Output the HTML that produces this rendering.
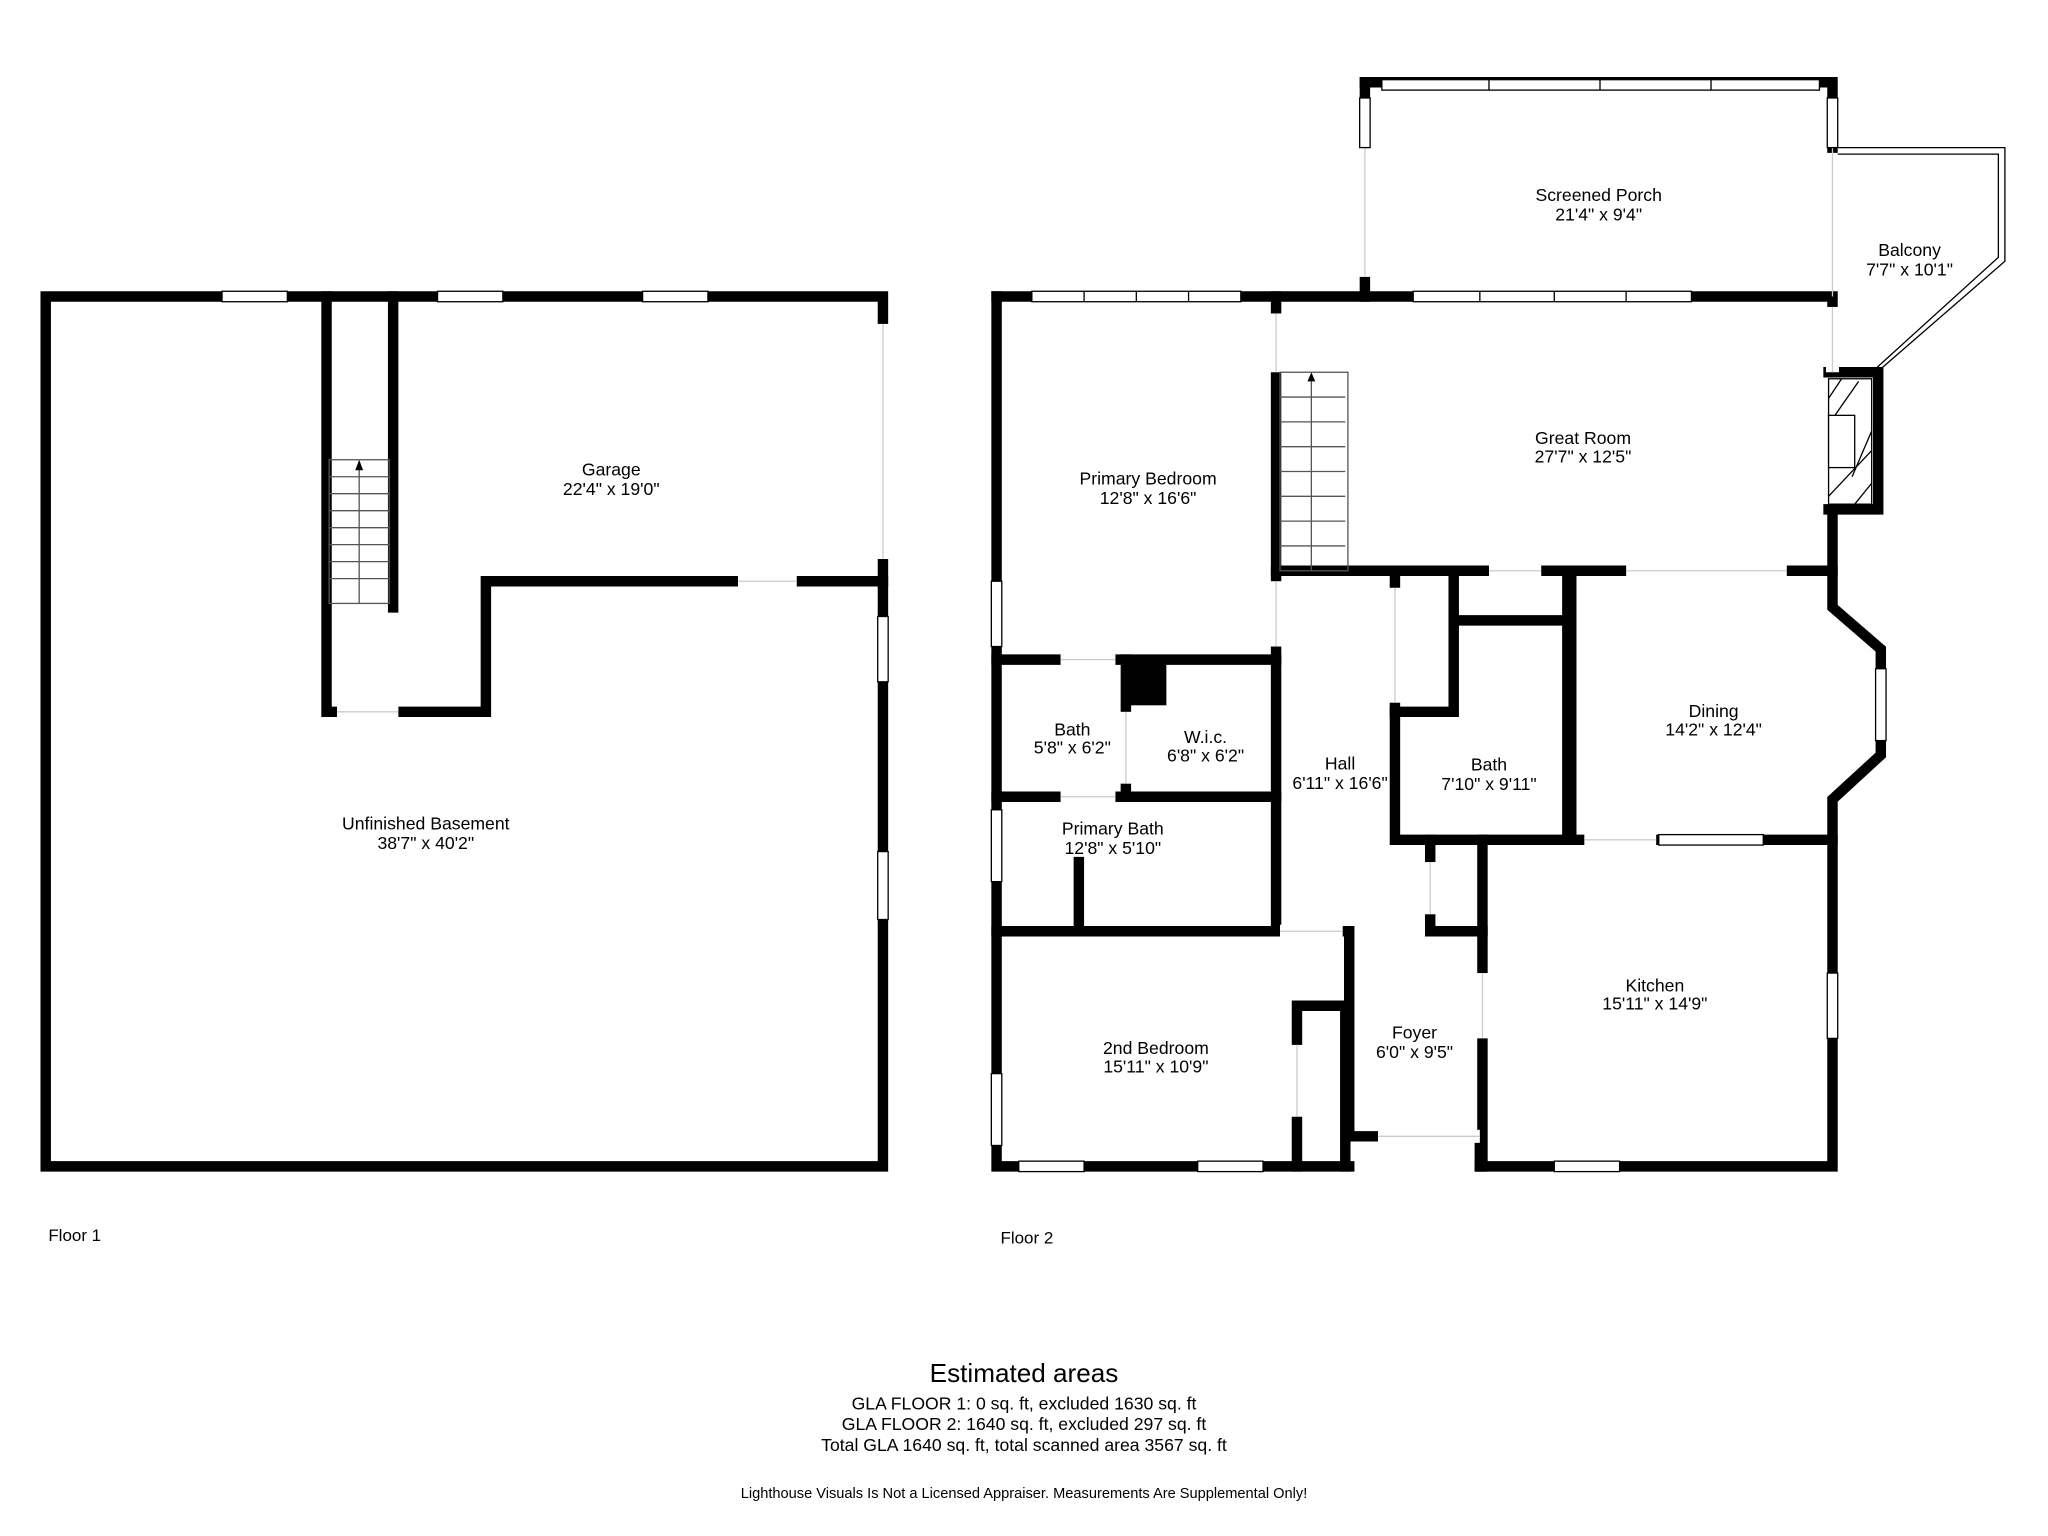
<!DOCTYPE html>
<html><head><meta charset="utf-8"><style>
html,body{margin:0;padding:0;background:#fff;}
svg{display:block;}
text{font-family:"Liberation Sans",sans-serif;fill:#000;}
</style></head><body>
<svg width="2048" height="1536" viewBox="0 0 1568 1176" xmlns="http://www.w3.org/2000/svg">
<rect width="1568" height="1176" fill="#fff"/>
<g stroke="#000" stroke-width="8" fill="none" stroke-linecap="square">
<path d="M35 227 H676 V893 H35 Z"/>
<path d="M250 227 V545 H372 V445 H676"/>
<path d="M301 227 V465"/>
</g>
<g fill="#fff" stroke="#000" stroke-width="1">
<rect x="170" y="223" width="50" height="8"/><rect x="335" y="223" width="50" height="8"/><rect x="492" y="223" width="50" height="8"/>
<rect x="672" y="472" width="8" height="50"/><rect x="672" y="652" width="8" height="52"/>
</g>
<g fill="#fff">
<rect x="671" y="248" width="10" height="180"/>
<rect x="565" y="440" width="45" height="10"/>
<rect x="258" y="540" width="47" height="10"/>
</g>
<line x1="676" y1="248" x2="676" y2="428" stroke="#ccc" stroke-width="1"/>
<line x1="565" y1="445" x2="610" y2="445" stroke="#ccc" stroke-width="1"/>
<line x1="258" y1="545" x2="305" y2="545" stroke="#ccc" stroke-width="1"/>
<g stroke="#555" stroke-width="1">
<rect x="252" y="352" width="46" height="110" fill="none"/>
<path d="M252 365H298M252 378H298M252 391H298M252 404H298M252 417H298M252 430H298M252 443H298M275 358V462"/>
</g>
<path d="M272 360 L275 352 L278 360Z" fill="#000"/>
<g font-size="13.5" text-anchor="middle">
<text x="468" y="364">Garage</text>
<text x="468" y="379">22'4" x 19'0"</text>
<text x="326" y="635">Unfinished Basement</text>
<text x="326" y="650">38'7" x 40'2"</text>
</g>
<text x="37" y="950" font-size="13">Floor 1</text>

<g stroke="#000" stroke-width="8" fill="none" stroke-linecap="square">
<path d="M763 227 V893 H1033"/>
<path d="M1133 893 H1403 V612 L1440 578 V497 L1403 465 V390"/>
<path d="M763 227 H1403 V285"/>
<path d="M977 227 V713"/>
<path d="M977 437 H1403"/>
<path d="M763 505 H977"/><path d="M862 505 V607"/><path d="M763 610 H977"/>
<path d="M763 713 H1030"/><path d="M826 660 V713"/>
<path d="M1068 437 V643 H1200 V437"/><path d="M1113 437 V545 H1068"/><path d="M1113 475 H1200"/>
<path d="M1203 437 V643 H1403"/>
<path d="M1135 643 V893"/><path d="M1095 643 V713 H1135"/>
<path d="M1033 713 V870 H1055"/><path d="M1133 870 V893"/>
<path d="M993 893 V770 H1030 V893"/>
<path d="M1400 285 H1438 V390 H1400"/>
<path d="M1045 63 H1403 V113"/><path d="M1045 63 V80"/><path d="M1045 212 V227"/>
</g>
<rect x="862" y="505" width="31" height="35" fill="#000"/>
<g fill="#fff">
<rect x="972" y="240" width="10" height="45"/>
<rect x="972" y="445" width="10" height="50"/>
<rect x="1140" y="432" width="40" height="10"/><rect x="1245" y="432" width="123" height="10"/>
<rect x="812" y="500" width="42" height="10"/><rect x="812" y="605" width="42" height="10"/>
<rect x="857" y="545" width="10" height="55"/>
<rect x="980" y="708" width="48" height="10"/>
<rect x="1063" y="450" width="10" height="88"/>
<rect x="1213" y="638" width="55" height="10"/>
<rect x="1130" y="745" width="10" height="50"/>
<rect x="1090" y="660" width="10" height="40"/>
<rect x="1055" y="865" width="78" height="10"/>
<rect x="988" y="800" width="10" height="55"/>
<rect x="1398" y="235" width="10" height="50"/>
<rect x="1040" y="80" width="10" height="132"/>
</g>
<g stroke="#ccc" stroke-width="1">
<line x1="977" y1="240" x2="977" y2="285"/><line x1="977" y1="445" x2="977" y2="495"/>
<line x1="1140" y1="437" x2="1180" y2="437"/><line x1="1245" y1="437" x2="1368" y2="437"/>
<line x1="1068" y1="450" x2="1068" y2="538"/><line x1="1055" y1="870" x2="1133" y2="870"/>
<line x1="1403" y1="235" x2="1403" y2="285"/><line x1="1045" y1="110" x2="1045" y2="212"/>
<line x1="1403" y1="113" x2="1403" y2="227"/>
<line x1="812" y1="505" x2="854" y2="505"/><line x1="812" y1="610" x2="854" y2="610"/>
<line x1="862" y1="545" x2="862" y2="600"/><line x1="980" y1="713" x2="1028" y2="713"/>
<line x1="1213" y1="643" x2="1268" y2="643"/><line x1="1135" y1="745" x2="1135" y2="795"/>
<line x1="1095" y1="660" x2="1095" y2="700"/><line x1="993" y1="800" x2="993" y2="855"/>
</g>
<g fill="#fff" stroke="#000" stroke-width="1">
<rect x="790" y="223" width="160" height="8"/><rect x="1082" y="223" width="213" height="8"/>
<rect x="1058" y="61" width="335" height="8"/>
<rect x="1041" y="75" width="8" height="38"/><rect x="1399" y="75" width="8" height="38"/>
<rect x="759" y="445" width="8" height="50"/><rect x="759" y="620" width="8" height="55"/><rect x="759" y="822" width="8" height="55"/>
<rect x="780" y="889" width="50" height="8"/><rect x="917" y="889" width="50" height="8"/>
<rect x="1190" y="889" width="50" height="8"/><rect x="1399" y="745" width="8" height="50"/>
<rect x="1270" y="639" width="80" height="8"/><rect x="1436" y="512" width="8" height="55"/>
</g>
<g stroke="#000" stroke-width="1">
<path d="M830 223V231M870 223V231M910 223V231M1133 223V231M1190 223V231M1245 223V231M1140 61V69M1225 61V69M1310 61V69"/>
</g>
<g stroke="#000" stroke-width="1" fill="none">
<path d="M1407 113 H1535 V200 L1437 285"/><path d="M1407 118 H1530 V197 L1433 285"/>
</g>
<rect x="1400" y="290" width="33" height="96" fill="#fff" stroke="#000"/>
<g stroke="#000" stroke-width="1"><path d="M1400 305L1410 290M1400 325L1423 292M1400 350L1415 320M1418 365L1433 330M1400 380L1433 345M1420 386L1433 370"/></g>
<rect x="1400" y="318" width="20" height="40" fill="#fff" stroke="#000"/>
<g stroke="#555" stroke-width="1" fill="none">
<rect x="980" y="285" width="52" height="152"/>
<path d="M980 304H1030M980 323H1030M980 342H1030M980 361H1030M980 380H1030M980 399H1030M980 418H1030M1004 290V437"/>
</g>
<path d="M1001 292 L1004 285 L1007 292Z" fill="#000"/>
<g font-size="13.5" text-anchor="middle">
<text x="1224" y="154">Screened Porch</text><text x="1224" y="169">21'4" x 9'4"</text>
<text x="1462" y="196">Balcony</text><text x="1462" y="211">7'7" x 10'1"</text>
<text x="1212" y="340">Great Room</text><text x="1212" y="354">27'7" x 12'5"</text>
<text x="879" y="371">Primary Bedroom</text><text x="879" y="386">12'8" x 16'6"</text>
<text x="821" y="563">Bath</text><text x="821" y="577">5'8" x 6'2"</text>
<text x="923" y="569">W.i.c.</text><text x="923" y="583">6'8" x 6'2"</text>
<text x="852" y="639">Primary Bath</text><text x="852" y="654">12'8" x 5'10"</text>
<text x="1026" y="589">Hall</text><text x="1026" y="604">6'11" x 16'6"</text>
<text x="1140" y="590">Bath</text><text x="1140" y="605">7'10" x 9'11"</text>
<text x="1312" y="549">Dining</text><text x="1312" y="563">14'2" x 12'4"</text>
<text x="1267" y="759">Kitchen</text><text x="1267" y="773">15'11" x 14'9"</text>
<text x="1083" y="795">Foyer</text><text x="1083" y="810">6'0" x 9'5"</text>
<text x="885" y="807">2nd Bedroom</text><text x="885" y="821">15'11" x 10'9"</text>
</g>
<text x="766" y="952" font-size="13">Floor 2</text>
<g text-anchor="middle">
<text x="784" y="1058" font-size="20">Estimated areas</text>
<text x="784" y="1079" font-size="13.5">GLA FLOOR 1: 0 sq. ft, excluded 1630 sq. ft</text>
<text x="784" y="1095" font-size="13.5">GLA FLOOR 2: 1640 sq. ft, excluded 297 sq. ft</text>
<text x="784" y="1111" font-size="13.5">Total GLA 1640 sq. ft, total scanned area 3567 sq. ft</text>
<text x="784" y="1147" font-size="11.2">Lighthouse Visuals Is Not a Licensed Appraiser. Measurements Are Supplemental Only!</text>
</g>
</svg>
</body></html>
